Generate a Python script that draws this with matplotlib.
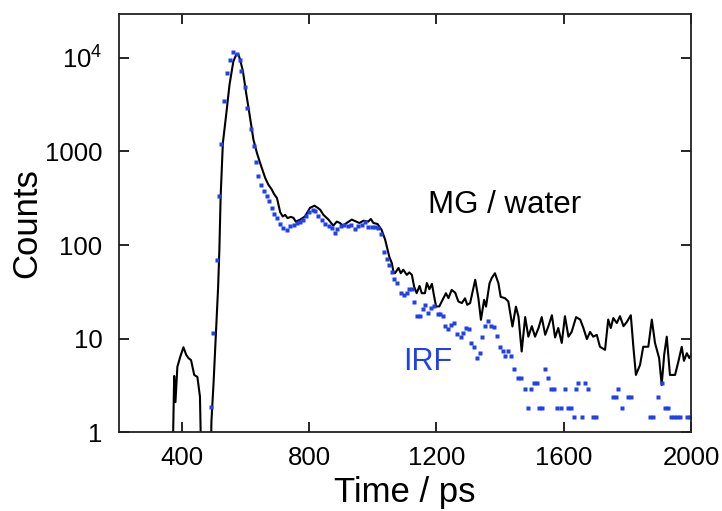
import matplotlib
matplotlib.use("Agg")
import matplotlib.pyplot as plt
from matplotlib.ticker import FixedLocator, FixedFormatter

plt.rcParams['font.family'] = ['Liberation Sans', 'DejaVu Sans']

# MG / water decay (black line), time in ps
mg_time = [
    370, 376, 380, 386, 395, 405, 414, 421, 429, 439,
    449, 457, 461, 466, 480, 490, 493, 500, 507, 514,
    518, 522, 529, 539, 550, 562, 571, 578, 583, 592,
    602, 612, 625, 636, 646, 656, 662, 672, 683, 690,
    699, 709, 717, 725, 732, 743, 751, 758, 772, 787,
    803, 817, 827, 835, 845, 861, 876, 887, 897, 906,
    918, 934, 945, 958, 971, 986, 994, 1002, 1015, 1028,
    1039, 1052, 1060, 1065, 1070, 1081, 1088, 1096, 1107, 1115,
    1123, 1130, 1138, 1147, 1154, 1164, 1170, 1178, 1186, 1193,
    1199, 1209, 1217, 1230, 1238, 1248, 1259, 1269, 1280, 1290,
    1297, 1306, 1322, 1332, 1340, 1350, 1356, 1367, 1374, 1384,
    1395, 1402, 1416, 1426, 1439, 1450, 1458, 1468, 1479, 1489,
    1500, 1510, 1521, 1531, 1542, 1552, 1563, 1573, 1583, 1594,
    1604, 1615, 1625, 1639, 1652, 1662, 1673, 1683, 1693, 1704,
    1714, 1730, 1740, 1748, 1756, 1767, 1777, 1788, 1798, 1811,
    1819, 1827, 1840, 1850, 1866, 1877, 1887, 1900, 1908, 1916,
    1924, 1934, 1950, 1960, 1971, 1978, 1987, 1995, 2003,
]
mg_counts = [
    0.3, 4.0, 2.1, 5.0, 6.4, 8.1, 6.7, 6.2, 5.9, 4.1,
    3.9, 2.4, 0.5, 0.3, 0.3, 0.3, 1.3, 3.5, 11, 35,
    89, 330, 1230, 2400, 5200, 9170, 10800, 10800, 9600, 7200,
    4230, 2590, 1340, 964, 753, 600, 521, 442, 390, 350,
    318, 225, 202, 210, 194, 200, 195, 178, 187, 202,
    250, 263, 250, 238, 210, 187, 161, 178, 172, 161,
    172, 187, 180, 172, 182, 178, 190, 172, 168, 145,
    114, 75, 64, 52, 50, 57, 50, 54.5, 48, 51,
    48, 36, 30.6, 36.6, 30.6, 30.6, 39.3, 33.8, 38.5, 28.2,
    22.1, 22.1, 25, 30.6, 27.1, 33.2, 31, 25, 24, 27,
    23, 24, 42.6, 27, 15.9, 26, 22, 39, 44.5, 50,
    39, 28, 27, 25, 13.5, 22, 17.2, 7.3, 17, 10.5,
    13.6, 10.5, 13, 17, 11, 13.6, 17.8, 10.3, 13, 9,
    17.4, 10.5, 11.8, 17, 16, 13, 9.9, 11.8, 10.5, 11,
    8.2, 7.6, 16, 13, 16.6, 14.7, 17.4, 13.6, 15, 17.8,
    8.2, 4.1, 5.25, 8.2, 8.2, 16, 9, 6.2, 3.2, 6.8,
    10.5, 4.1, 4.1, 5.6, 8.2, 5.8, 7, 6.2, 7,
]

# instrument response function (blue dots)
irf_time = [
    491, 499, 510, 517, 524, 533, 542, 552, 562, 573,
    582, 587, 597, 606, 616, 626, 634, 640, 649, 658,
    667, 675, 683, 690, 699, 709, 719, 730, 740, 751,
    761, 772, 782, 791, 801, 812, 819, 829, 840, 850,
    861, 871, 880, 889, 901, 911, 922, 932, 945, 955,
    966, 976, 986, 997, 1007, 1016, 1025, 1036, 1044, 1052,
    1060, 1068, 1077, 1088, 1098, 1107, 1115, 1123, 1131, 1140,
    1149, 1157, 1165, 1175, 1183, 1191, 1204, 1212, 1222, 1228,
    1238, 1246, 1256, 1266, 1277, 1285, 1293, 1301, 1309, 1319,
    1329, 1337, 1344, 1353, 1362, 1372, 1381, 1391, 1400, 1409,
    1416, 1424, 1436, 1444, 1455, 1465, 1477, 1487, 1498, 1508,
    1517, 1523, 1532, 1542, 1550, 1560, 1570, 1578, 1592, 1604,
    1614, 1623, 1631, 1639, 1646, 1657, 1667, 1676, 1693, 1702,
    1754, 1764, 1772, 1783, 1801, 1811, 1871, 1880, 1898, 1908,
    1918, 1927, 1937, 1947, 1956, 1966, 1989, 1998,
]
irf_counts = [
    1.85, 11.5, 69, 337, 1211, 3435, 6800, 9420, 11480, 11100,
    9370, 7310, 4900, 2920, 1740, 1135, 773, 551, 441, 381,
    331, 292, 249, 216, 195, 169, 152, 146, 158, 164,
    172, 175, 187, 202, 224, 239, 230, 206, 183, 169,
    158, 152, 134, 148, 158, 164, 161, 162, 150, 158,
    162, 175, 156, 155, 155, 152, 131, 85, 71, 61.5,
    51, 43.6, 39.2, 31.1, 29.4, 30.5, 33.8, 33.8, 24.9, 17.5,
    17.5, 20.7, 23, 19, 21.2, 22.4, 18.4, 18.4, 17.5, 13.7,
    12.6, 14.1, 14.6, 11.2, 10.3, 11.6, 12.9, 12.6, 9.1, 8.1,
    6.2, 7.1, 10.4, 13.7, 15.6, 13.7, 13.3, 10.8, 8.1, 7.3,
    6.5, 7.3, 6.5, 4.75, 3.78, 3.78, 2.88, 1.83, 2.88, 3.39,
    3.39, 1.83, 1.83, 4.72, 3.78, 2.88, 2.88, 1.83, 1.83, 2.88,
    1.83, 1.83, 1.47, 2.88, 3.39, 1.47, 3.39, 2.88, 1.47, 1.47,
    2.4, 2.4, 2.88, 1.83, 2.4, 2.4, 1.47, 1.47, 2.4, 3.39,
    1.83, 1.83, 1.47, 1.47, 1.47, 1.47, 1.47, 1.47,
]

x_ticks = [400, 800, 1200, 1600, 2000]
y_ticks = [1, 10, 100, 1000, 10000]
y_tick_labels = ["1", "10", "100", "1000", r"$\mathregular{10^4}$"]

fig = plt.figure(figsize=(7.22, 5.11), dpi=100)
ax = fig.add_axes([0.165, 0.154, 0.792, 0.819])

ax.plot(mg_time, mg_counts, color="black", lw=1.5)
ax.plot(irf_time, irf_counts, ls="none", marker="s", ms=2.2,
        mec="none", color="#1f3ff0")

ax.set_yscale("log")
ax.set_xlim(203, 2000)
ax.set_ylim(1, 10 ** 4.47)

ax.xaxis.set_major_locator(FixedLocator(x_ticks))
ax.yaxis.set_major_locator(FixedLocator(y_ticks))
ax.yaxis.set_major_formatter(FixedFormatter(y_tick_labels))
ax.yaxis.set_minor_locator(FixedLocator([]))

ax.tick_params(which="major", direction="in", length=7, width=1.2,
               top=True, right=True, labelsize=18.5)
ax.tick_params(axis="x", pad=10)
ax.tick_params(axis="y", pad=12)
for s in ax.spines.values():
    s.set_linewidth(1.3)
    s.set_color("#222222")

ax.set_xlabel("Time / ps", fontsize=25, labelpad=4)
ax.set_ylabel("Counts", fontsize=25, labelpad=1)

ax.text(1174, 221, "MG / water", fontsize=22.5, color="black",
        ha="left", va="baseline")
ax.text(1095, 4.64, "IRF", fontsize=22, color="#1f3ff0",
        ha="left", va="baseline")

fig.savefig("out.png", dpi=100)
